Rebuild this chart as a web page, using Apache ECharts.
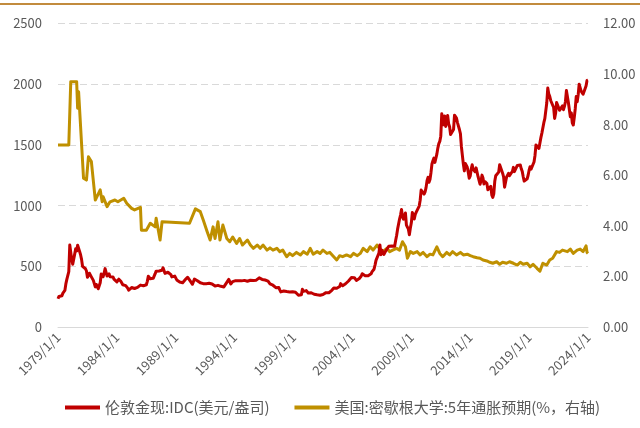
<!DOCTYPE html>
<html>
<head>
<meta charset="utf-8">
<script src="https://cdn.jsdelivr.net/npm/echarts@6/dist/echarts.min.js"></script>
<style>
    html, body { margin: 0; padding: 0; background: #fff; }
    #main { width: 640px; height: 428px; }
</style>
</head>
<body>
<div id="main"></div>
<script>
// 伦敦金现 月度均价 1979/1 - 2024/1
var goldPrice = [
    233, 252, 241, 239, 257, 279, 294, 301, 355, 392, 392, 456,
    675, 665, 554, 517, 514, 600, 644, 627, 674, 662, 623, 595,
    557, 500, 499, 495, 480, 461, 409, 410, 443, 437, 413, 410,
    384, 374, 330, 350, 333, 315, 340, 364, 436, 422, 414, 445,
    481, 491, 420, 432, 438, 413, 423, 416, 412, 394, 382, 388,
    371, 386, 394, 381, 377, 378, 348, 348, 341, 341, 341, 320,
    303, 299, 304, 325, 316, 317, 317, 330, 323, 326, 325, 322,
    345, 339, 346, 340, 342, 343, 348, 376, 418, 423, 398, 391,
    408, 401, 408, 439, 460, 449, 451, 461, 460, 465, 467, 487,
    477, 442, 444, 452, 451, 451, 438, 431, 413, 407, 420, 419,
    404, 388, 390, 385, 371, 368, 375, 365, 362, 367, 393, 409,
    410, 417, 394, 375, 369, 352, 362, 395, 390, 381, 381, 378,
    383, 364, 363, 358, 357, 367, 368, 357, 349, 359, 360, 361,
    354, 354, 345, 338, 337, 341, 353, 343, 345, 344, 335, 334,
    329, 330, 330, 342, 367, 372, 392, 379, 355, 364, 374, 383,
    387, 382, 384, 377, 381, 386, 385, 380, 391, 389, 384, 379,
    379, 377, 382, 391, 385, 387, 386, 383, 383, 383, 386, 387,
    400, 405, 396, 393, 392, 385, 383, 387, 383, 381, 378, 369,
    355, 346, 352, 344, 344, 341, 324, 324, 323, 325, 306, 289,
    289, 297, 296, 308, 299, 292, 293, 284, 289, 296, 294, 291,
    287, 288, 286, 282, 277, 262, 256, 257, 265, 311, 293, 284,
    284, 300, 286, 280, 275, 286, 282, 275, 274, 270, 266, 272,
    265, 262, 263, 261, 272, 270, 268, 273, 283, 283, 276, 276,
    282, 296, 294, 302, 314, 321, 314, 310, 319, 317, 319, 333,
    357, 359, 340, 328, 355, 356, 351, 360, 379, 379, 389, 407,
    414, 405, 406, 404, 384, 392, 398, 400, 406, 420, 439, 442,
    424, 423, 434, 429, 422, 430, 424, 438, 456, 469, 476, 510,
    549, 555, 557, 610, 676, 596, 633, 632, 598, 585, 627, 629,
    631, 665, 655, 679, 667, 655, 665, 665, 713, 754, 806, 803,
    889, 922, 968, 909, 888, 889, 939, 839, 829, 806, 760, 816,
    858, 943, 925, 890, 928, 946, 934, 949, 996, 1044, 1128, 1135,
    1117, 1095, 1113, 1148, 1205, 1233, 1193, 1215, 1271, 1343, 1370, 1391,
    1356, 1372, 1424, 1474, 1510, 1529, 1572, 1756, 1772, 1666, 1739, 1652,
    1656, 1742, 1674, 1650, 1585, 1596, 1594, 1626, 1745, 1747, 1721, 1684,
    1671, 1627, 1593, 1487, 1414, 1343, 1286, 1347, 1349, 1316, 1275, 1225,
    1244, 1300, 1336, 1299, 1287, 1279, 1311, 1296, 1238, 1222, 1176, 1202,
    1251, 1227, 1178, 1198, 1199, 1181, 1131, 1117, 1125, 1159, 1086, 1068,
    1097, 1200, 1246, 1242, 1260, 1276, 1337, 1341, 1326, 1267, 1236, 1152,
    1192, 1234, 1231, 1266, 1246, 1260, 1236, 1283, 1315, 1280, 1283, 1265,
    1331, 1331, 1325, 1335, 1303, 1282, 1238, 1202, 1198, 1215, 1221, 1250,
    1291, 1320, 1300, 1285, 1284, 1359, 1413, 1500, 1510, 1495, 1471, 1480,
    1560, 1597, 1592, 1683, 1716, 1732, 1847, 1968, 1922, 1900, 1866, 1858,
    1867, 1808, 1718, 1760, 1850, 1834, 1807, 1785, 1775, 1777, 1821, 1790,
    1817, 1856, 1948, 1937, 1849, 1836, 1732, 1764, 1681, 1664, 1726, 1798,
    1898, 1855, 1913, 2000, 1992, 1943, 1951, 1918, 1916, 1916, 1985, 2031,
    2034
];

// 密歇根大学 5年通胀预期 (%)
var inflDate = [
    '1979/1/1', '1979/12/1', '1980/2/1', '1980/8/1', '1980/9/1', '1980/10/1', '1980/12/1',
    '1981/3/1', '1981/6/1', '1981/8/1', '1981/11/1', '1982/3/1', '1982/8/1', '1982/10/1',
    '1982/11/1', '1983/3/1', '1983/6/1', '1983/11/1', '1984/2/1', '1984/8/1', '1984/11/1',
    '1985/4/1', '1985/7/1', '1986/1/1', '1986/2/1', '1986/7/1', '1986/11/1', '1987/4/1',
    '1987/5/1', '1987/7/1', '1987/9/1', '1987/11/1', '1990/3/1', '1990/9/1', '1991/2/1',
    '1991/5/1', '1991/9/1', '1991/12/1', '1992/3/1', '1992/5/1', '1992/8/1', '1992/10/1',
    '1993/1/1', '1993/5/1', '1993/8/1', '1993/11/1', '1994/3/1', '1994/6/1', '1994/9/1',
    '1995/2/1', '1995/5/1', '1995/8/1', '1995/12/1', '1996/3/1', '1996/6/1', '1996/10/1',
    '1997/1/1', '1997/4/1', '1997/8/1', '1997/11/1', '1998/2/1', '1998/6/1', '1998/9/1',
    '1998/12/1', '1999/4/1', '1999/8/1', '1999/11/1', '2000/3/1', '2000/6/1', '2000/9/1',
    '2001/1/1', '2001/4/1', '2001/7/1', '2001/11/1', '2002/2/1', '2002/5/1', '2002/9/1',
    '2002/12/1', '2003/3/1', '2003/7/1', '2003/11/1', '2004/2/1', '2004/6/1', '2004/9/1',
    '2004/12/1', '2005/4/1', '2005/7/1', '2005/10/1', '2006/2/1', '2006/5/1', '2006/8/1',
    '2006/12/1', '2007/3/1', '2007/6/1', '2007/10/1', '2008/1/1', '2008/4/1', '2008/7/1',
    '2008/9/1', '2008/12/1', '2009/3/1', '2009/7/1', '2009/10/1', '2010/1/1', '2010/5/1',
    '2010/8/1', '2010/11/1', '2011/3/1', '2011/6/1', '2011/9/1', '2012/1/1', '2012/4/1',
    '2012/7/1', '2012/11/1', '2013/3/1', '2013/6/1', '2013/10/1', '2014/1/1', '2014/4/1',
    '2014/8/1', '2014/11/1', '2015/2/1', '2015/6/1', '2015/9/1', '2015/12/1', '2016/4/1',
    '2016/7/1', '2016/10/1', '2017/2/1', '2017/5/1', '2017/9/1', '2018/1/1', '2018/4/1',
    '2018/7/1', '2018/11/1', '2019/2/1', '2019/5/1', '2019/9/1', '2019/12/1', '2020/3/1',
    '2020/7/1', '2020/10/1', '2021/1/1', '2021/5/1', '2021/8/1', '2021/11/1', '2022/4/1',
    '2022/7/1', '2022/10/1', '2023/2/1', '2023/5/1', '2023/8/1', '2023/10/1', '2023/11/1',
    '2023/12/1', '2024/1/1'
];
var inflValue = [
    7.2, 7.2, 9.7, 9.7, 8.65, 9.3, 9.3,
    5.88, 5.81, 6.73, 6.54, 5.02, 5.42, 4.95,
    5.15, 4.76, 4.95, 5.02, 4.95, 5.09, 4.89,
    4.69, 4.63, 4.73, 3.83, 3.83, 4.1, 3.96,
    4.3, 4.23, 3.44, 4.16, 4.1, 4.67, 4.56,
    4.23, 3.77, 3.44, 3.96, 3.5, 4.16, 3.44,
    4.03, 3.5, 3.37, 3.56, 3.3, 3.5, 3.24,
    3.44, 3.24, 3.11, 3.24, 3.11, 3.24, 3.04,
    3.13, 3.04, 3.11, 2.98, 3.04, 2.78, 2.91,
    2.82, 2.95, 2.85, 2.98, 2.88, 3.11, 2.88,
    2.98, 2.91, 3.04, 2.91, 2.95, 2.82, 2.65,
    2.82, 2.78, 2.85, 2.78, 2.91, 2.82, 2.91,
    3.11, 2.98, 3.17, 3.04, 3.24, 3.08, 2.98,
    3.11, 2.98, 3.04, 3.11, 3.04, 3.37, 3.17,
    2.72, 2.98, 2.91, 2.98, 2.85, 2.95, 2.78,
    2.88, 2.85, 3.17, 2.91, 2.78, 2.95, 2.85,
    2.98, 2.85, 2.95, 2.85, 2.88, 2.82, 2.78,
    2.74, 2.72, 2.65, 2.61, 2.56, 2.52, 2.58,
    2.48, 2.56, 2.52, 2.58, 2.52, 2.45, 2.56,
    2.48, 2.52, 2.38, 2.48, 2.32, 2.21, 2.52,
    2.45, 2.65, 2.72, 2.98, 2.95, 3.04, 2.98,
    3.08, 2.91, 3.04, 3.08, 2.98, 3.05, 3.21,
    2.95, 2.91
];

var leftTicks = [0, 500, 1000, 1500, 2000, 2500];
var rightTicks = [0, 2, 4, 6, 8, 10, 12];

var months = [];
for (var y = 1979; y <= 2024; y++) {
    for (var m = 1; m <= 12; m++) {
        if (y === 2024 && m > 1) break;
        months.push(y + '/' + m + '/1');
    }
}

var inflData = inflDate.map(function (d, i) { return [d, inflValue[i]]; });

var font = "'Noto Sans CJK SC', 'Noto Sans', sans-serif";
var myChart = echarts.init(document.getElementById('main'));
var option = {
    backgroundColor: '#fff',
    animation: false,
    textStyle: { fontFamily: font },
    graphic: [{
        type: 'rect',
        left: 0, top: 3,
        shape: { width: 640, height: 2 },
        style: { fill: '#C28B3E' }
    }],
    grid: { left: 58, right: 52, top: 23.5, bottom: 101 },
    legend: {
        left: 65,
        top: 400,
        padding: 0,
        icon: 'rect',
        itemWidth: 35,
        itemHeight: 4,
        itemGap: 25,
        textStyle: { color: '#595959', fontSize: 15, fontFamily: font },
        data: ['伦敦金现:IDC(美元/盎司)', '美国:密歇根大学:5年通胀预期(%，右轴)']
    },
    xAxis: {
        type: 'category',
        data: months,
        boundaryGap: false,
        axisLine: { lineStyle: { color: '#D9D9D9', width: 1 } },
        axisTick: { show: false },
        axisLabel: {
            interval: 59,
            rotate: 45,
            margin: 8,
            color: '#595959',
            fontSize: 13,
            fontFamily: font
        },
        splitLine: { show: false }
    },
    yAxis: [{
        type: 'value',
        min: leftTicks[0],
        max: leftTicks[leftTicks.length - 1],
        interval: 500,
        axisLine: { show: false },
        axisTick: { show: false },
        axisLabel: {
            color: '#595959', fontSize: 13, margin: 16, fontFamily: font,
            formatter: function (v) { return String(v); }
        },
        splitLine: { lineStyle: { color: '#D9D9D9', type: [7, 4], width: 1 } }
    }, {
        type: 'value',
        min: rightTicks[0],
        max: rightTicks[rightTicks.length - 1],
        interval: 2,
        axisLine: { show: false },
        axisTick: { show: false },
        axisLabel: {
            color: '#595959', fontSize: 13, margin: 15, fontFamily: font,
            formatter: function (v) { return v.toFixed(2); }
        },
        splitLine: { show: false }
    }],
    series: [{
        name: '美国:密歇根大学:5年通胀预期(%，右轴)',
        type: 'line',
        yAxisIndex: 1,
        data: inflData,
        showSymbol: false,
        symbol: 'none',
        connectNulls: true,
        color: '#BF9000',
        lineStyle: { color: '#BF9000', width: 3, join: 'round' },
        z: 2
    }, {
        name: '伦敦金现:IDC(美元/盎司)',
        type: 'line',
        yAxisIndex: 0,
        data: goldPrice,
        showSymbol: false,
        symbol: 'none',
        color: '#C00000',
        lineStyle: { color: '#C00000', width: 3, join: 'round' },
        z: 3
    }]
};
myChart.setOption(option);
</script>
</body>
</html>
